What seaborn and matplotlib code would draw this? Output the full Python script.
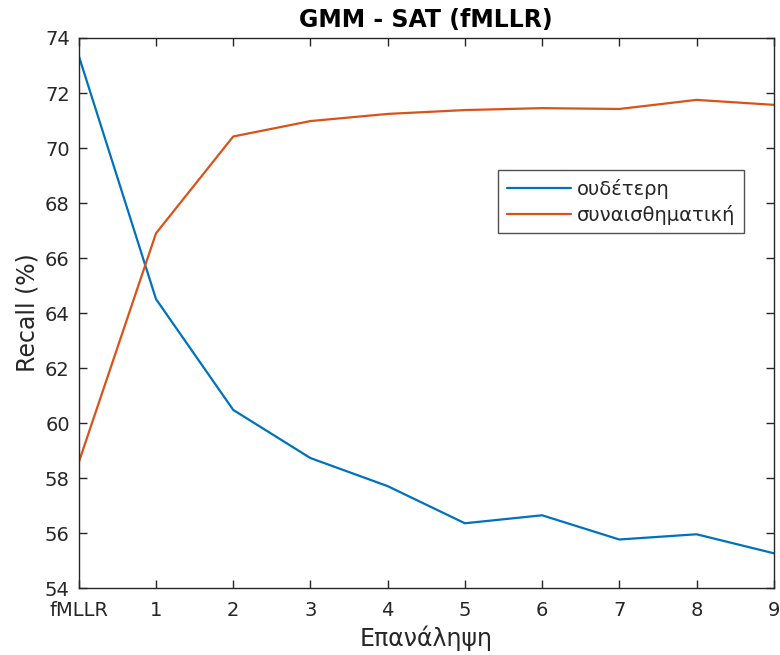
import matplotlib
matplotlib.use("Agg")
import matplotlib.pyplot as plt
import seaborn as sns
import pandas as pd

categories = ["fMLLR", "1", "2", "3", "4", "5", "6", "7", "8", "9"]
neutral = [73.35, 64.51, 60.48, 58.73, 57.71, 56.36, 56.65, 55.77, 55.96, 55.27]
emotional = [58.58, 66.9, 70.42, 70.98, 71.24, 71.38, 71.45, 71.42, 71.75, 71.57]
series_names = ["ουδέτερη", "συναισθηματική"]

sns.set_theme(style="white")
plt.rcParams['font.family'] = ['DejaVu Sans']

idx = list(range(len(categories)))
df = pd.DataFrame({
    "x": idx * 2,
    "y": neutral + emotional,
    "series": [series_names[0]] * len(idx) + [series_names[1]] * len(idx),
})

fig = plt.figure(figsize=(7.8, 6.55), dpi=100)
ax = fig.add_axes([0.101, 0.102, 0.891, 0.840])
sns.lineplot(data=df, x="x", y="y", hue="series", palette=["#0072BD", "#D95319"],
             linewidth=1.6, ax=ax)

ax.set_xlim(0, 9)
ax.set_ylim(54, 74)
ax.set_xticks(idx)
ax.set_xticklabels(categories)
ax.set_yticks(range(54, 75, 2))

dark = "#262626"
for s in ax.spines.values():
    s.set_color(dark)
    s.set_linewidth(1.0)
    s.set_visible(True)
ax.tick_params(direction="in", length=6, width=1.0, colors=dark, labelsize=14,
               top=True, right=True, bottom=True, left=True)
ax.tick_params(axis="x", pad=9)
ax.tick_params(axis="y", pad=6.5)
for lab in ax.get_xticklabels() + ax.get_yticklabels():
    lab.set_color(dark)

ax.set_title("GMM - SAT (fMLLR)", fontsize=17, fontweight="bold", color="black", pad=8)
ax.set_xlabel("Επανάληψη", fontsize=17, color=dark, labelpad=4)
ax.set_ylabel("Recall (%)", fontsize=17, color=dark, labelpad=4)

leg = ax.legend(loc="upper left", bbox_to_anchor=(0.603, 0.760), fontsize=14,
                frameon=True, fancybox=False, handlelength=3.3, borderpad=0.45,
                labelspacing=0.3, handletextpad=0.3, borderaxespad=0)
leg.get_frame().set_edgecolor(dark)
leg.get_frame().set_linewidth(1.0)
for t in leg.get_texts():
    t.set_color(dark)

fig.savefig("out.png", dpi=100)
